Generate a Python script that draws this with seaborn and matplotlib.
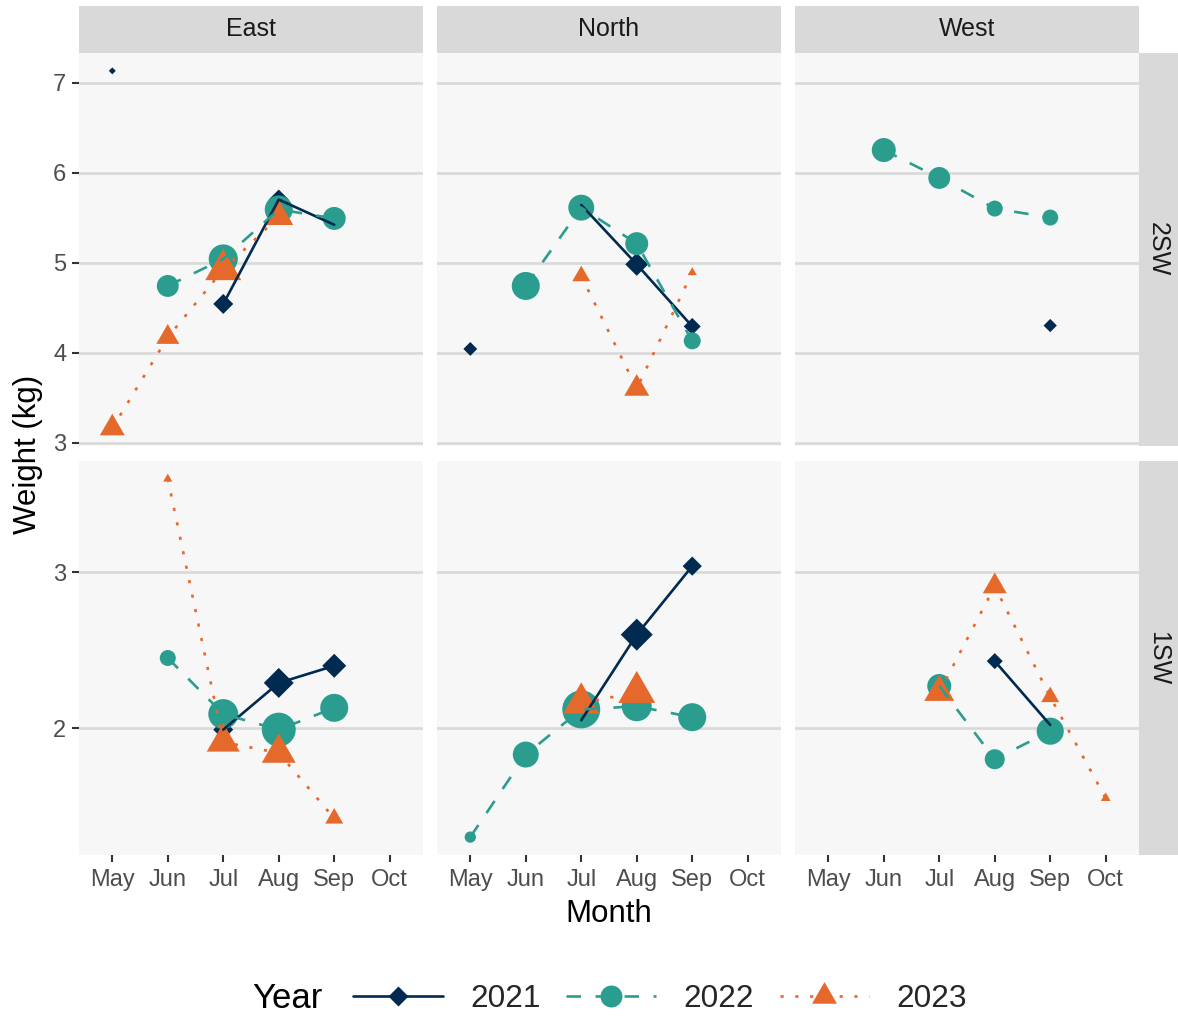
import numpy as np
import pandas as pd
import seaborn as sns
import matplotlib.pyplot as plt
from matplotlib.path import Path
from matplotlib.lines import Line2D
from matplotlib.ticker import MultipleLocator

nan = np.nan

months = ["May", "Jun", "Jul", "Aug", "Sep", "Oct"]
regions = ["East", "North", "West"]
sea_ages = ["2SW", "1SW"]
years = ["2021", "2022", "2023"]

# Mean weight (kg) per month, May..Oct, and number of fish behind each mean
east_2sw_2021 = [7.13, nan, 4.54, 5.70, 5.42, nan]
east_2sw_2022 = [nan, 4.74, 5.04, 5.59, 5.49, nan]
east_2sw_2023 = [3.16, 4.17, 4.92, 5.51, nan, nan]
east_2sw_2021_n = [3, nan, 25, 25, 3, nan]
east_2sw_2022_n = [nan, 30, 53, 49, 33, nan]
east_2sw_2023_n = [52, 44, 108, 70, nan, nan]

north_2sw_2021 = [4.04, nan, 5.64, 4.98, 4.29, nan]
north_2sw_2022 = [nan, 4.74, 5.61, 5.21, 4.13, nan]
north_2sw_2023 = [nan, nan, 4.85, 3.60, 4.89, nan]
north_2sw_2021_n = [12, nan, 1, 33, 18, nan]
north_2sw_2022_n = [nan, 49, 42, 33, 18, nan]
north_2sw_2023_n = [nan, nan, 27, 52, 7, nan]

west_2sw_2021 = [nan, nan, nan, nan, 4.30, nan]
west_2sw_2022 = [nan, 6.25, 5.94, 5.60, 5.50, nan]
west_2sw_2023 = [nan, nan, nan, nan, nan, nan]
west_2sw_2021_n = [nan, nan, nan, nan, 11, nan]
west_2sw_2022_n = [nan, 36, 30, 16, 16, nan]
west_2sw_2023_n = [nan, nan, nan, nan, nan, nan]

east_1sw_2021 = [nan, nan, 1.99, 2.29, 2.40, nan]
east_1sw_2022 = [nan, 2.45, 2.09, 1.99, 2.13, nan]
east_1sw_2023 = [nan, 3.60, 1.91, 1.84, 1.42, nan]
east_1sw_2021_n = [nan, nan, 25, 56, 36, nan]
east_1sw_2022_n = [nan, 16, 56, 72, 49, nan]
east_1sw_2023_n = [nan, 7, 91, 96, 27, nan]

north_1sw_2021 = [nan, nan, 2.05, 2.60, 3.04, nan]
north_1sw_2022 = [1.30, 1.83, 2.12, 2.14, 2.07, nan]
north_1sw_2023 = [nan, nan, 2.16, 2.23, nan, nan]
north_1sw_2021_n = [nan, nan, 1, 64, 23, nan]
north_1sw_2022_n = [8, 42, 90, 56, 49, nan]
north_1sw_2023_n = [nan, nan, 108, 114, nan, nan]

west_1sw_2021 = [nan, nan, nan, 2.43, 2.02, nan]
west_1sw_2022 = [nan, nan, 2.27, 1.80, 1.98, nan]
west_1sw_2023 = [nan, nan, 2.23, 2.91, 2.20, 1.55]
west_1sw_2021_n = [nan, nan, nan, 16, 11, nan]
west_1sw_2022_n = [nan, nan, 36, 25, 46, nan]
west_1sw_2023_n = [nan, nan, 75, 48, 27, 8]

series = {
    ("2SW", "East"): [(east_2sw_2021, east_2sw_2021_n), (east_2sw_2022, east_2sw_2022_n), (east_2sw_2023, east_2sw_2023_n)],
    ("2SW", "North"): [(north_2sw_2021, north_2sw_2021_n), (north_2sw_2022, north_2sw_2022_n), (north_2sw_2023, north_2sw_2023_n)],
    ("2SW", "West"): [(west_2sw_2021, west_2sw_2021_n), (west_2sw_2022, west_2sw_2022_n), (west_2sw_2023, west_2sw_2023_n)],
    ("1SW", "East"): [(east_1sw_2021, east_1sw_2021_n), (east_1sw_2022, east_1sw_2022_n), (east_1sw_2023, east_1sw_2023_n)],
    ("1SW", "North"): [(north_1sw_2021, north_1sw_2021_n), (north_1sw_2022, north_1sw_2022_n), (north_1sw_2023, north_1sw_2023_n)],
    ("1SW", "West"): [(west_1sw_2021, west_1sw_2021_n), (west_1sw_2022, west_1sw_2022_n), (west_1sw_2023, west_1sw_2023_n)],
}

# Long table; a gap (missing month) starts a new line run
rows = []
for (age, region), per_year in series.items():
    for year, (wts, ns) in zip(years, per_year):
        run = 0
        prev_missing = True
        for pos, (w, n) in enumerate(zip(wts, ns)):
            if np.isnan(w):
                prev_missing = True
                continue
            if prev_missing:
                run += 1
            prev_missing = False
            rows.append(dict(age=age, region=region, year=year, pos=pos,
                             month=months[pos], weight=w, n=n,
                             run=f"{year}_{run}"))
df = pd.DataFrame(rows)

palette = {"2021": "#002A50", "2022": "#2A9D8F", "2023": "#E6692C"}
diamond = Path([(0, 1), (1, 0), (0, -1), (-1, 0), (0, 1)], closed=True)
triangle = Path([(0, 1), (-0.866, -0.5), (0.866, -0.5), (0, 1)], closed=True)
markers = {"2021": diamond, "2022": "o", "2023": triangle}
dashes = {"2021": "", "2022": (5.5, 5.5), "2023": (1.2, 4.4)}
LW = 1.9

n_lo, n_hi = 1, 114
s_per_n = (4 * 0.72) ** 2

sns.set_theme(style="white")
plt.rcParams["font.family"] = ["Liberation Sans", "DejaVu Sans"]

W, H = 1178, 1016
fig = plt.figure(figsize=(W / 100, H / 100), dpi=100)


def px_axes(x0, y0, x1, y1):
    return fig.add_axes([x0 / W, 1 - y1 / H, (x1 - x0) / W, (y1 - y0) / H])


col_x = [79, 437, 795]
pw = 344
row_y = [(53, 446), (461, 855)]

for r, age in enumerate(sea_ages):
    age_df = df[df.age == age]
    lo, hi = age_df.weight.min(), age_df.weight.max()
    pad = 0.05 * (hi - lo)
    for c, region in enumerate(regions):
        x0 = col_x[c]
        ax = px_axes(x0, row_y[r][0], x0 + pw, row_y[r][1])
        ax.set_facecolor("#F7F7F7")
        sub = age_df[age_df.region == region]
        sns.scatterplot(data=sub, x="pos", y="weight", hue="year", style="year",
                        size="n", hue_order=years, style_order=years,
                        palette=palette, markers=markers,
                        sizes=(n_lo * s_per_n, n_hi * s_per_n),
                        size_norm=(n_lo, n_hi), linewidth=0, legend=False,
                        ax=ax, zorder=2)
        sns.lineplot(data=sub, x="pos", y="weight", hue="year", style="year",
                     units="run", estimator=None, hue_order=years,
                     style_order=years, palette=palette, dashes=dashes,
                     linewidth=LW, legend=False, ax=ax, zorder=3)
        ax.set_xlim(-0.6, len(months) - 1 + 0.6)
        ax.set_ylim(lo - pad, hi + pad)
        ax.set_xticks(range(len(months)))
        ax.set_xticklabels(months)
        ax.yaxis.set_major_locator(MultipleLocator(1))
        ax.yaxis.grid(True, color="#D9D9D9", lw=1.9)
        ax.xaxis.grid(False)
        ax.set_axisbelow(True)
        for s in ax.spines.values():
            s.set_visible(False)
        ax.set_xlabel("")
        ax.set_ylabel("")
        ax.tick_params(axis="both", length=5, width=1.5, color="#333333",
                       labelcolor="#4D4D4D", labelsize=17, pad=4)
        ax.tick_params(axis="x", pad=17.5)
        for lbl in ax.get_xticklabels():
            lbl.set_verticalalignment("baseline")
        ax.tick_params(axis="y", left=(c == 0), labelleft=(c == 0))
        ax.tick_params(axis="x", bottom=(r == 1), labelbottom=(r == 1))

        if r == 0:
            st = px_axes(x0, 6, x0 + pw, 52.5)
            st.set_facecolor("#D9D9D9")
            st.set_xticks([])
            st.set_yticks([])
            for s in st.spines.values():
                s.set_visible(False)
            st.text(0.5, 0.5, region, ha="center", va="center",
                    fontsize=18, color="#1A1A1A", transform=st.transAxes)
    st = px_axes(1138.5, row_y[r][0], 1178, row_y[r][1])
    st.set_facecolor("#D9D9D9")
    st.set_xticks([])
    st.set_yticks([])
    for s in st.spines.values():
        s.set_visible(False)
    st.text(0.5, 0.5, age, ha="center", va="center", rotation=-90,
            fontsize=18, color="#1A1A1A", transform=st.transAxes)

fig.text(28 / W, 1 - 454 / H, "Weight (kg)", rotation=90, ha="center",
         va="center", fontsize=22.5, color="black")
fig.text(609 / W, 1 - 914 / H, "Month", ha="center", va="center",
         fontsize=22.5, color="black")

handles = [
    Line2D([], [], color=palette["2021"], lw=LW, ls="-", marker=diamond,
           markersize=14.4, markeredgewidth=0),
    Line2D([], [], color=palette["2022"], lw=LW, ls=(0, dashes["2022"]),
           marker="o", markersize=15.8, markeredgewidth=0),
    Line2D([], [], color=palette["2023"], lw=LW, ls=(0, dashes["2023"]),
           marker=triangle, markersize=20.8, markeredgewidth=0),
]
fig.legend(handles, years, loc="center left",
           bbox_to_anchor=(353 / W, 1 - 999 / H), ncol=3, frameon=False,
           fontsize=22.7, handlelength=2.85, handletextpad=0.86,
           columnspacing=0.82, borderpad=0, borderaxespad=0, numpoints=1)
fig.text(252 / W, 1 - 999 / H, "Year", ha="left", va="center", fontsize=25,
         color="black")

fig.savefig("out.png", dpi=100)
